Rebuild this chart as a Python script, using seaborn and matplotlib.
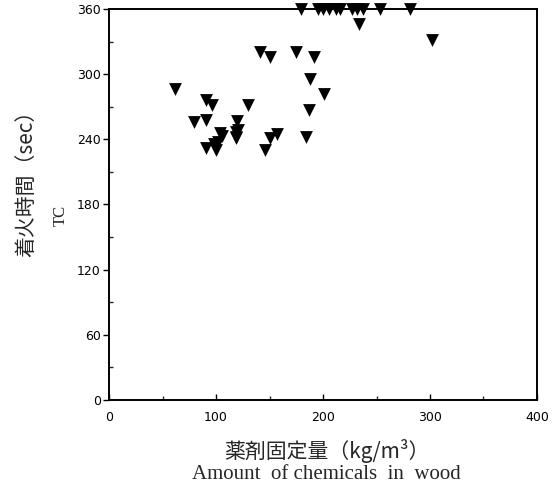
import matplotlib
matplotlib.use("Agg")
import matplotlib.pyplot as plt
from matplotlib.ticker import MultipleLocator
import seaborn as sns
import pandas as pd

# Amount of chemicals in wood (kg/m3) and ignition time TC (sec)
amount = [62, 91, 96, 130, 79, 91, 120, 104, 119, 102, 119, 91, 100, 98, 106,
          141, 150, 175, 192, 188, 201, 187, 157, 150, 184, 146, 121, 119,
          179, 195, 200, 206, 212, 216, 227, 232, 237, 253, 281,
          234, 302]
ignition = [286, 276, 272, 272, 256, 258, 257, 246, 247, 238, 241, 232, 230, 236, 243,
            321, 316, 321, 316, 296, 282, 267, 245, 241, 242, 230, 249, 242,
            360, 360, 360, 360, 360, 360, 360, 360, 360, 360, 360,
            346, 332]

xticks = [0, 100, 200, 300, 400]
yticks = [0, 60, 120, 180, 240, 300, 360]

df = pd.DataFrame({"amount": amount, "ignition": ignition})

sns.set_style("ticks")
plt.rcParams["font.family"] = ["DejaVu Sans"]

fig = plt.figure(figsize=(5.54, 4.86), dpi=100)
ax = fig.add_axes([0.1968, 0.1776, 0.7725, 0.8034])

sns.scatterplot(data=df, x="amount", y="ignition", marker="v", color="black",
                s=85, edgecolor="black", linewidth=0, ax=ax, clip_on=False,
                zorder=5)

ax.set_xlim(0, 400)
ax.set_ylim(0, 360)
ax.set_xticks(xticks)
ax.set_yticks(yticks)
ax.xaxis.set_minor_locator(MultipleLocator(50))
ax.yaxis.set_minor_locator(MultipleLocator(30))
ax.tick_params(axis="x", which="major", direction="in", length=4, width=1,
               labelsize=9, pad=8, colors="black")
ax.tick_params(axis="x", which="minor", direction="in", length=3, width=1)
ax.tick_params(axis="y", which="major", direction="out", length=4, width=1,
               labelsize=9, pad=2, colors="black")
ax.tick_params(axis="y", which="minor", direction="in", length=3, width=1)
for sp in ax.spines.values():
    sp.set_visible(True)
    sp.set_linewidth(1.4)
    sp.set_color("black")

ax.set_xlabel("")
ax.set_ylabel("")

cjk = ["Noto Sans CJK JP", "DejaVu Sans"]
fig.text(0.047, 0.634, "着火時間（sec）", rotation=90, ha="center", va="center",
         fontsize=15, family=cjk)
fig.text(0.110, 0.556, "TC", rotation=90, ha="center", va="center",
         fontsize=12, family=["Liberation Serif"])
fig.text(0.590, 0.072, "薬剤固定量（kg/m³）", ha="center", va="center",
         fontsize=15, family=cjk)
fig.text(0.590, 0.023, "Amount  of chemicals  in  wood", ha="center", va="center",
         fontsize=15, family=["Liberation Serif"])

fig.savefig("out.png", dpi=100, facecolor="white")
